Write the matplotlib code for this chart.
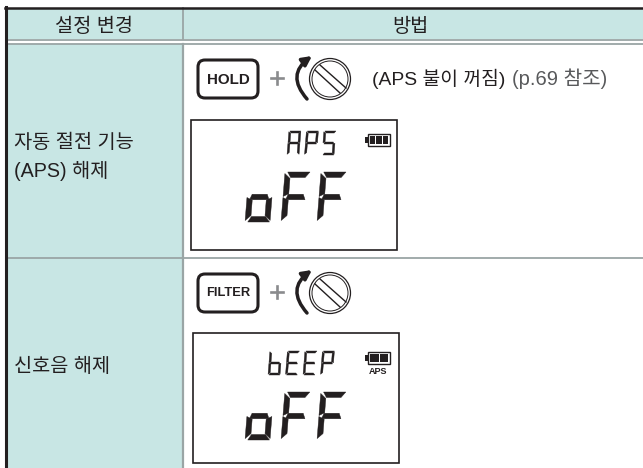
import matplotlib
matplotlib.use('Agg')
import matplotlib.pyplot as plt
from matplotlib.patches import Rectangle, FancyBboxPatch, Circle, Polygon

plt.rcParams['font.family'] = ['Liberation Sans', 'Noto Sans CJK KR', 'DejaVu Sans']

headers = ['설정 변경', '방법']
row_labels = ['자동 절전 기능', '(APS) 해제', '신호음 해제']
buttons = ['HOLD', 'FILTER']
note_bold = '(APS 불이 꺼짐)'
note_ref = '(p.69 참조)'
lcd_top = ['APS', 'bEEP']
lcd_main = 'oFF'

teal = '#c8e6e4'
grey = '#9aa5a5'
dark = '#231f20'

# segments on for each character: a top, b upper right, c lower right, d bottom, e lower left, f upper left, g middle
segments = {'A': 'abcefg', 'P': 'abefg', 'S': 'acdfg', 'b': 'cdefg', 'E': 'adefg', 'o': 'cdeg', 'F': 'aefg'}


def seven_seg(ax, x, y, w, h, ch, t):
    # x,y is top left of the digit, slight italic slant
    sl = 0.08 * h
    def pt(u, v):
        return (x + u * w + (1 - v) * sl, y + v * h)
    g = t / w
    k = t / h
    shapes = {
        'a': [(g*.5, 0), (1, 0), (1-g*.8, k), (g*1.1, k)],
        'g': [(g*.9, .5-k/2), (1-g*.9, .5-k/2), (1-g*.5, .5+k/2), (g*.5, .5+k/2)],
        'd': [(g*1.1, 1-k), (1-g*.9, 1-k), (1-g*.1, 1), (g*.5, 1)],
        'f': [(0, .03), (g, k+.02), (g, .5-k/2-.01), (0, .49)],
        'b': [(1-g, k+.02), (1, .03), (1, .49), (1-g, .5-k/2-.01)],
        'e': [(0, .51), (g, .5+k/2+.01), (g, 1-k-.02), (0, .97)],
        'c': [(1-g, .5+k/2+.01), (1, .51), (1, .97), (1-g, 1-k-.02)],
    }
    for s in segments[ch]:
        ax.add_patch(Polygon([pt(u, v) for u, v in shapes[s]], closed=True, fc=dark, ec=dark, lw=0.3, zorder=4))


def seven_str(ax, x, y, w, h, pitch, text, t):
    for i, ch in enumerate(text):
        seven_seg(ax, x + i * pitch, y, w, h, ch, t)


def battery(ax, x, y, bars):
    ax.add_patch(Rectangle((x + 3, y), 22, 12, fc='white', ec=dark, lw=1.0, zorder=4))
    ax.add_patch(Rectangle((x, y + 3), 3, 6, fc=dark, ec='none', zorder=4))
    bw = 19 / bars
    for i in range(bars):
        ax.add_patch(Rectangle((x + 5 + i * bw, y + 2), bw - 1, 8, fc=dark, ec='none', zorder=5))


def control(ax, x, y, w, h, label, fs):
    ax.add_patch(FancyBboxPatch((x + 5, y + 5), w - 10, h - 10, boxstyle='round,pad=5,rounding_size=7',
                                fc='white', ec=dark, lw=2.2, zorder=3))
    ax.text(x + w / 2, y + h / 2 + 0.5, label, fontsize=fs, fontweight='bold',
            ha='center', va='center', color=dark, zorder=4)
    # plus sign
    cy = y + h / 2
    ax.plot([x + w + 13, x + w + 25], [cy - 1, cy - 1], color='#8a8b8d', lw=1.9, zorder=4)
    ax.plot([x + w + 19, x + w + 19], [cy - 7, cy + 5], color='#8a8b8d', lw=1.9, zorder=4)
    # curved arrow
    ax.annotate('', xy=(x + w + 54, cy - 23), xytext=(x + w + 49, cy + 20),
                arrowprops=dict(arrowstyle='-|>,head_width=0.28,head_length=0.55', lw=2.5, color=dark,
                                connectionstyle='arc3,rad=-0.55', shrinkA=0, shrinkB=0), zorder=4)
    # dial
    dx = x + w + 72
    ax.add_patch(Circle((dx, cy), 20.5, fc='white', ec=dark, lw=0.9, zorder=3))
    ax.add_patch(Circle((dx, cy), 18, fc='white', ec=dark, lw=0.7, zorder=3))
    ax.plot([dx - 10, dx + 16], [cy - 14, cy + 9], color=dark, lw=1.0, zorder=4)
    ax.plot([dx - 15, dx + 10], [cy - 9, cy + 14], color=dark, lw=1.0, zorder=4)


fig = plt.figure(figsize=(6.43, 4.68), dpi=100)
ax = fig.add_axes([0, 0, 1, 1])
ax.set_xlim(0, 643)
ax.set_ylim(468, 0)
ax.axis('off')

# table fills
ax.add_patch(Rectangle((6, 8), 637, 31, fc=teal, ec='none'))
ax.add_patch(Rectangle((6, 44), 177, 424, fc=teal, ec='none'))

# table lines
for y in [39.5, 44, 258]:
    ax.plot([6, 643], [y, y], color=grey, lw=1.3)
ax.plot([183, 183], [8, 39], color=grey, lw=1.3)
ax.plot([183, 183], [44, 468], color=grey, lw=1.6)
ax.plot([5, 643], [8, 8], color=dark, lw=1.8)
ax.plot([6, 6], [7, 468], color=dark, lw=2.2)

# header and row text
ax.text(94, 26, headers[0], fontsize=14.2, ha='center', va='center', color=dark)
ax.text(410, 26, headers[1], fontsize=14.2, ha='center', va='center', color=dark)
ax.text(14, 142, row_labels[0], fontsize=14.2, ha='left', va='center', color=dark)
ax.text(14, 171, row_labels[1], fontsize=14.2, ha='left', va='center', color=dark)
ax.text(14, 367, row_labels[2], fontsize=14.2, ha='left', va='center', color=dark)

# top row
control(ax, 198, 60, 60, 38, buttons[0], 10.9)
ax.text(372, 79, note_bold, fontsize=13.9, ha='left', va='center', color=dark)
ax.text(512, 79, note_ref, fontsize=14.5, ha='left', va='center', color='#58595b')
ax.add_patch(Rectangle((191, 119.5), 206, 130, fc='white', ec=dark, lw=1.2))
seven_str(ax, 287, 131, 12, 24, 17.5, lcd_top[0], 2)
seven_str(ax, 245, 172, 25, 50, 36, lcd_main, 5.5)
battery(ax, 365, 134, 3)

# bottom row
control(ax, 198, 274, 60, 38, buttons[1], 9.3)
ax.add_patch(Rectangle((192.5, 333), 206, 130, fc='white', ec=dark, lw=1.2))
seven_str(ax, 268, 351, 12, 24, 17.5, lcd_top[1], 2)
seven_str(ax, 245, 392, 25, 48, 36, lcd_main, 5.5)
battery(ax, 365, 352, 2)
ax.text(378, 371, 'APS', fontsize=6.5, fontweight='bold', ha='center', va='center', color=dark)

fig.savefig('out.png', dpi=100)
